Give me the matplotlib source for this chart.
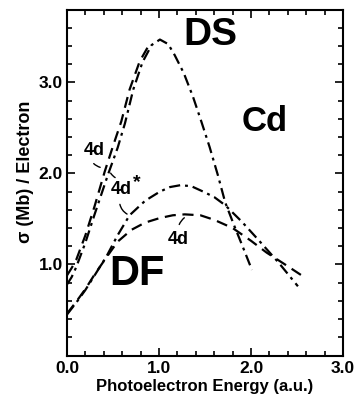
import matplotlib
matplotlib.use("Agg")
import matplotlib.pyplot as plt
from matplotlib.ticker import MultipleLocator

plt.rcParams['font.family'] = ['Liberation Sans', 'DejaVu Sans']

# DS 4d (dashed), rising branch
ds4d_x = [0.0, 0.05, 0.10, 0.20, 0.30, 0.41, 0.50, 0.59, 0.68, 0.79, 0.88]
ds4d_y = [0.88, 0.96, 1.05, 1.32, 1.64, 2.02, 2.30, 2.57, 2.92, 3.23, 3.39]
# DS 4d* (dash-dot)
ds4ds_x = [0.0, 0.05, 0.10, 0.20, 0.30, 0.45, 0.55, 0.63, 0.72, 0.82, 0.92, 1.01, 1.10, 1.17, 1.27, 1.37, 1.46, 1.55, 1.64, 1.72, 1.82, 1.92, 2.01]
ds4ds_y = [0.78, 0.86, 0.97, 1.24, 1.55, 2.00, 2.28, 2.55, 2.92, 3.22, 3.41, 3.47, 3.42, 3.30, 3.10, 2.84, 2.57, 2.29, 1.98, 1.68, 1.42, 1.17, 0.94]
# DF 4d* (dash-dot)
df4ds_x = [0.0, 0.10, 0.20, 0.30, 0.43, 0.55, 0.68, 0.85, 1.01, 1.12, 1.23, 1.35, 1.48, 1.60, 1.72, 1.90, 2.08, 2.30, 2.51]
df4ds_y = [0.45, 0.58, 0.72, 0.88, 1.09, 1.32, 1.54, 1.70, 1.80, 1.85, 1.87, 1.86, 1.80, 1.74, 1.65, 1.47, 1.27, 1.02, 0.76]
# DF 4d (dashed)
df4d_x = [0.0, 0.10, 0.20, 0.30, 0.43, 0.55, 0.70, 0.85, 1.01, 1.15, 1.28, 1.45, 1.60, 1.80, 2.00, 2.17, 2.40, 2.58]
df4d_y = [0.46, 0.59, 0.73, 0.89, 1.08, 1.25, 1.38, 1.46, 1.51, 1.54, 1.55, 1.54, 1.49, 1.40, 1.26, 1.13, 0.98, 0.86]

x_ticks = [0.0, 1.0, 2.0, 3.0]
x_ticklabels = ["0.0", "1.0", "2.0", "3.0"]
y_ticks = [1.0, 2.0, 3.0]
y_ticklabels = ["1.0", "2.0", "3.0"]

fig = plt.figure(figsize=(3.55, 3.94), dpi=100)
ax = fig.add_axes([67/355, 1-355.5/394, (343-67)/355, (355.5-9.5)/394])

dashed = (0, (5, 3))
dashdot = (0, (5, 2.2, 1.3, 2.2))
lw = 1.6
ax.plot(ds4d_x, ds4d_y, color='black', lw=lw, linestyle=dashed)
ax.plot(ds4ds_x, ds4ds_y, color='black', lw=lw, linestyle=dashdot)
ax.plot(df4ds_x, df4ds_y, color='black', lw=lw, linestyle=dashdot)
ax.plot(df4d_x, df4d_y, color='black', lw=lw, linestyle=dashed)

ax.set_xlim(0, 3.0)
ax.set_ylim(0, 3.8)
ax.set_xticks(x_ticks)
ax.set_xticklabels(x_ticklabels)
ax.set_yticks(y_ticks)
ax.set_yticklabels(y_ticklabels)
ax.xaxis.set_minor_locator(MultipleLocator(0.2))
ax.yaxis.set_minor_locator(MultipleLocator(0.2))
ax.tick_params(which='both', direction='in', top=True, right=True, width=1.2)
ax.tick_params(which='major', length=6, labelsize=12.5)
ax.tick_params(axis='x', which='major', pad=4)
ax.tick_params(axis='y', which='major', pad=3)
ax.tick_params(which='minor', length=3.5)
for lab in ax.get_xticklabels() + ax.get_yticklabels():
    lab.set_fontweight('bold')
for s in ax.spines.values():
    s.set_linewidth(1.5)

ax.set_xlabel("Photoelectron Energy (a.u.)", fontsize=12, fontweight='bold')
ax.set_ylabel("σ (Mb) / Electron", fontsize=13, fontweight='bold')
ax.xaxis.set_label_coords((205-67)/276, (355.5-387)/346, transform=ax.transAxes)
ax.yaxis.set_label_coords((26-67)/276, (355.5-172)/346, transform=ax.transAxes)
ax.xaxis.label.set_va('center')
ax.yaxis.label.set_va('center')

ax.text(1.554, 3.516, "DS", fontsize=28, fontweight='bold', ha='center', va='center')
ax.text(2.152, 2.565, "Cd", fontsize=25, fontweight='bold', ha='center', va='center')
ax.text(0.76, 0.90, "DF", fontsize=30, fontweight='bold', ha='center', va='center')

ax.text(0.30, 2.25, "4d", fontsize=13, fontweight='bold', ha='center', va='center')
ax.annotate("", xy=(0.39, 2.06), xytext=(0.27, 2.13),
            arrowprops=dict(arrowstyle='-', lw=1.0, connectionstyle='arc3,rad=0.2'))
ax.text(0.59, 1.82, "4d", fontsize=13, fontweight='bold', ha='center', va='center')
ax.text(0.76, 1.90, "*", fontsize=14, fontweight='bold', ha='center', va='center')
ax.annotate("", xy=(0.46, 2.03), xytext=(0.55, 1.94),
            arrowprops=dict(arrowstyle='-', lw=1.0, connectionstyle='arc3,rad=-0.2'))
ax.annotate("", xy=(0.68, 1.54), xytext=(0.57, 1.69),
            arrowprops=dict(arrowstyle='-', lw=1.0, connectionstyle='arc3,rad=0.3'))
ax.text(1.21, 1.27, "4d", fontsize=13, fontweight='bold', ha='center', va='center')
ax.annotate("", xy=(1.30, 1.53), xytext=(1.21, 1.41),
            arrowprops=dict(arrowstyle='-', lw=1.0, connectionstyle='arc3,rad=-0.2'))

fig.savefig("out.png", dpi=100)
